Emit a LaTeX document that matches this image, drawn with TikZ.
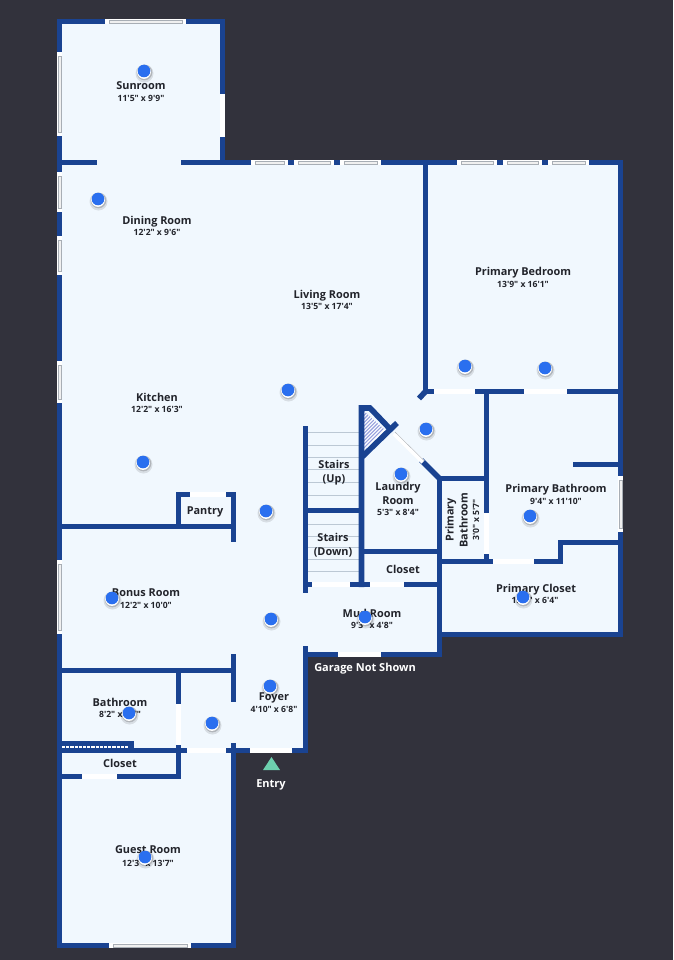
\documentclass[tikz,border=0pt]{standalone}
\usepackage{fontspec}
\newfontfamily\planfont{Open Sans}
\definecolor{bgdark}{HTML}{32323C}
\definecolor{wallblue}{HTML}{1A4391}
\definecolor{floorblue}{HTML}{F1F8FE}
\definecolor{dotblue}{HTML}{2A6FEF}
\definecolor{stairgrey}{HTML}{BCC8D4}
\definecolor{wingrey}{HTML}{A8AEB5}
\definecolor{entrygreen}{HTML}{6DD0AE}
\definecolor{inktext}{HTML}{22242B}
\tikzset{
  wall/.style={draw=wallblue,line width=5.6pt,line cap=rect,line join=miter},
  stairline/.style={draw=stairgrey,line width=0.7pt},
  roomname/.style={font=\planfont\bfseries\fontsize{10.9}{14}\selectfont,text=inktext,inner sep=0pt,align=center,text depth=0pt},
  roomdim/.style={font=\planfont\bfseries\fontsize{8.6}{10}\selectfont,text=inktext,inner sep=0pt,align=center,text depth=0pt},
  outsidelabel/.style={font=\planfont\bfseries\fontsize{11}{12}\selectfont,text=white,inner sep=0pt,text depth=0pt},
}
\newcommand{\hdoor}[3]{\fill[white] (#1,#3-2.9) rectangle (#2,#3+2.9);}
\newcommand{\vdoor}[3]{\fill[white] (#3-2.9,#1) rectangle (#3+2.9,#2);}
\newcommand{\hwin}[3]{\fill[white] (#1,#3-2.9) rectangle (#2,#3+2.9);
  \draw[wingrey,line width=0.4pt,fill=white!94!black] (#1+4,#3-1.7) rectangle (#2-4,#3+1.7);}
\newcommand{\vwin}[3]{\fill[white] (#3-2.9,#1) rectangle (#3+2.9,#2);
  \draw[wingrey,line width=0.4pt,fill=white!94!black] (#3-1.7,#1+4) rectangle (#3+1.7,#2-4);}
\newcommand{\pin}[3]{
  \fill[black,opacity=0.10] (#2+0.5,#3+2.5) circle (9);
  \fill[black,opacity=0.18] (#2+0.5,#3+1.5) circle (7.8);
  \fill[white] (#2,#3+1) circle (6.9);
  \node[circle,fill=dotblue,minimum size=12.6pt,inner sep=0pt] (#1) at (#2,#3) {};}
\begin{document}
\begin{tikzpicture}[x=1pt,y=-1pt]
\useasboundingbox (0,0) rectangle (673,960);
\fill[bgdark] (0,0) rectangle (673,960);
% floor
\fill[floorblue] (59.5,21.5) -- (222.5,21.5) -- (222.5,162.5) -- (620.5,162.5) -- (620.5,634.5)
  -- (439.5,634.5) -- (439.5,654.5) -- (305.5,654.5) -- (305.5,750.5) -- (233.5,750.5)
  -- (233.5,945.5) -- (59.5,945.5) -- cycle;
% stairs
\foreach \yy in {445,457,469,482,495,524,536,547,559,571}
  \draw[stairline] (308,\yy) -- (359,\yy);
\draw[stairline,line width=1pt] (308,432) -- (359,432);
% hatch triangle
\begin{scope}
  \clip (364,411) -- (386,431) -- (364,449) -- cycle;
  \fill[white] (360,405) rectangle (390,455);
  \foreach \k in {0,3.6,...,50}
    \draw[stairgrey!80!blue,line width=1.1pt] (360,405+\k) -- (390,375+\k);
\end{scope}
% outer walls
\draw[wall] (59.5,21.5) -- (222.5,21.5) -- (222.5,162.5);
\draw[wall] (59.5,21.5) -- (59.5,945.5) -- (233.5,945.5) -- (233.5,750.5);
\draw[wall] (183.5,162.5) -- (620.5,162.5) -- (620.5,634.5) -- (439.5,634.5);
\draw[wall] (59.5,162.5) -- (94.5,162.5);
\draw[wall] (439.5,478.5) -- (439.5,654.5) -- (305.5,654.5);
\draw[wall] (305.5,648.5) -- (305.5,750.5);
% primary bedroom
\draw[wall] (425.5,162.5) -- (425.5,391.5) -- (620.5,391.5);
\draw[wall,line cap=butt] (425.5,391.5) -- (419,398.5);
\draw[wall] (486.5,391.5) -- (486.5,561.5);
\draw[wall] (575.5,464.5) -- (620.5,464.5);
\draw[wall] (620.5,542.5) -- (560.5,542.5) -- (560.5,561.5) -- (439.5,561.5);
\draw[wall] (486.5,478.5) -- (439.5,478.5);
% laundry / stairs core
\draw[wall,line join=miter] (439.5,478.5) -- (423,462);
\draw[wall,line cap=butt] (361.5,587) -- (361.5,408) -- (370,408) -- (392,431);
\draw[wall,line cap=butt] (397,423) -- (362,457);
\draw[wall,line cap=butt] (305.5,426) -- (305.5,593);
\draw[wall] (305.5,510.5) -- (361.5,510.5);
\draw[wall] (361.5,551.5) -- (439.5,551.5);
\draw[wall] (305.5,584.5) -- (439.5,584.5);
% left side rooms
\draw[wall] (59.5,526.5) -- (233.5,526.5);
\draw[wall] (178.5,526.5) -- (178.5,494.5) -- (233.5,494.5) -- (233.5,539.5);
\draw[wall] (233.5,656.5) -- (233.5,699.5);
\draw[wall] (59.5,670.5) -- (233.5,670.5);
\draw[wall] (178.5,670.5) -- (178.5,776.5) -- (59.5,776.5);
\draw[wall] (59.5,750.5) -- (305.5,750.5);
\draw[wall] (233.5,746) -- (233.5,750.5);
\draw[wall,line cap=butt] (178.5,744) -- (178.5,750.5);
\fill[wallblue] (59.5,741) rectangle (134,750);
\draw[white,line width=2.4pt,dash pattern=on 3.2pt off 1pt] (62,746.8) -- (129,746.8);
% windows
\hwin{105}{186}{21.5}
\vwin{52}{136}{59.5}
\vwin{172}{212}{59.5}
\vwin{236}{275}{59.5}
\vwin{361}{403}{59.5}
\vwin{560}{634}{59.5}
\hwin{251}{288}{162.5}
\hwin{294}{334}{162.5}
\hwin{340}{381}{162.5}
\hwin{457}{497}{162.5}
\hwin{503}{542}{162.5}
\hwin{548}{589}{162.5}
\vwin{476}{532}{620.5}
\hwin{109}{191}{945.5}
% doors and openings
\vdoor{94}{137}{222.5}
\hdoor{434}{475}{391.5}
\hdoor{524}{567}{391.5}
\vdoor{513}{554}{486.5}
\hdoor{493}{534}{561.5}
\hdoor{312}{350}{584.5}
\hdoor{370}{404}{584.5}
\hdoor{338}{381}{654.5}
\hdoor{190}{226}{494.5}
\vdoor{704}{745}{178.5}
\hdoor{187}{226}{750.5}
\hdoor{250}{292}{750.5}
\hdoor{82}{117}{776.5}
% diagonal door of the laundry room
\draw[white,line width=4.4pt] (394,433.5) -- (423,462);
\draw[wingrey,line width=0.4pt] (395,432) -- (424,460.5);
% entry marker
\fill[entrygreen] (263,770) -- (280,770) -- (271.5,757) -- cycle;
% labels
\node[roomname] (sunroom) at (141,86) {Sunroom};
\node[roomdim] (sunroomdim) at (141,98) {11'5" x 9'9"};
\node[roomname] (dining) at (157,220) {Dining Room};
\node[roomdim] (diningdim) at (157,232) {12'2" x 9'6"};
\node[roomname] (living) at (327,294) {Living Room};
\node[roomdim] (livingdim) at (327,306) {13'5" x 17'4"};
\node[roomname] (bedroom) at (523,271) {Primary Bedroom};
\node[roomdim] (bedroomdim) at (523,284) {13'9" x 16'1"};
\node[roomname] (kitchen) at (157,397) {Kitchen};
\node[roomdim] (kitchendim) at (157,409) {12'2" x 16'3"};
\node[roomname] (pantry) at (205,511) {Pantry};
\node[roomname] (stairsup) at (334,471) {Stairs\\(Up)};
\node[roomname] (stairsdown) at (333,544) {Stairs\\(Down)};
\node[roomname] (laundry) at (398,493) {Laundry\\Room};
\node[roomdim] (laundrydim) at (398,512) {5'3" x 8'4"};
\node[roomname] (laundrycloset) at (403,569) {Closet};
\node[roomname] (pbath) at (556,488) {Primary Bathroom};
\node[roomdim] (pbathdim) at (556,501) {9'4" x 11'10"};
\node[roomname,rotate=90] (pbathsmall) at (456.5,520) {Primary\\Bathroom};
\node[roomdim,rotate=90] (pbathsmalldim) at (476,520) {3'0" x 5'7"};
\node[roomname] (pcloset) at (536,588) {Primary Closet};
\node[roomdim] (pclosetdim) at (535,600) {13'3" x 6'4"};
\node[roomname] (mud) at (372,613) {Mud Room};
\node[roomdim] (muddim) at (372,625) {9'3" x 4'8"};
\node[roomname] (bonus) at (146,593) {Bonus Room};
\node[roomdim] (bonusdim) at (146,605) {12'2" x 10'0"};
\node[roomname] (foyer) at (274,697) {Foyer};
\node[roomdim] (foyerdim) at (274,709) {4'10" x 6'8"};
\node[roomname] (bathroom) at (120,702) {Bathroom};
\node[roomdim] (bathroomdim) at (120,714) {8'2" x 6'7"};
\node[roomname] (closet) at (120,763) {Closet};
\node[roomname] (guest) at (148,850) {Guest Room};
\node[roomdim] (guestdim) at (148,863) {12'3" x 13'7"};
\node[outsidelabel] (garage) at (365,667) {Garage Not Shown};
\node[outsidelabel] (entry) at (271,784) {Entry};
% pins
\pin{p1}{144}{71}
\pin{p2}{98}{199}
\pin{p3}{288}{390}
\pin{p4}{465}{366}
\pin{p5}{545}{368}
\pin{p6}{426}{429}
\pin{p7}{401}{474}
\pin{p8}{143}{462}
\pin{p9}{266}{511}
\pin{p10}{530}{516}
\pin{p11}{523}{597}
\pin{p12}{365}{617}
\pin{p13}{271}{619}
\pin{p14}{112}{598}
\pin{p15}{270}{686}
\pin{p16}{129}{713}
\pin{p17}{212}{723}
\pin{p18}{145}{857}
\end{tikzpicture}
\end{document}
